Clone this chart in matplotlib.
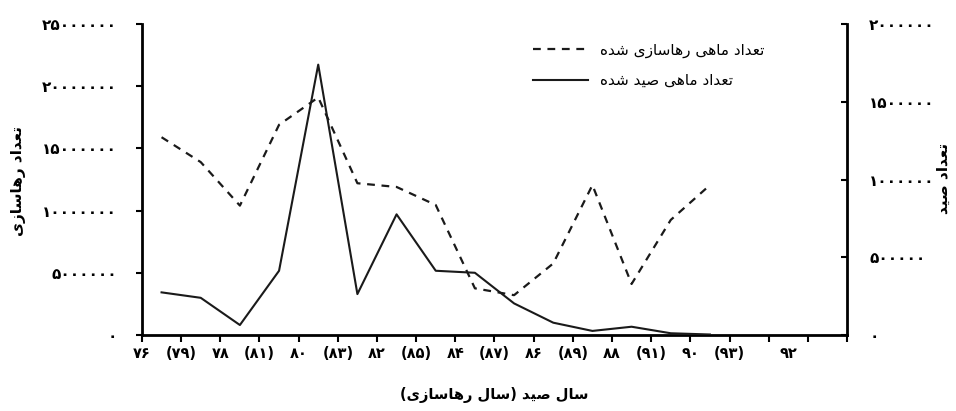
import matplotlib.pyplot as plt
import numpy as np
from matplotlib.ticker import FuncFormatter
from matplotlib.lines import Line2D

plt.rcParams['font.family'] = ['DejaVu Sans']

# data
released = [15.9e6, 13.9e6, 10.4e6, 16.9e6, 19.1e6, 12.2e6, 11.9e6, 10.45e6,
            3.75e6, 3.2e6, 5.75e6, 12.05e6, 4.1e6, 9.25e6, 12.05e6]
caught = [274e3, 239e3, 64e3, 413e3, 1739e3, 263e3, 776e3, 413e3,
          400e3, 203e3, 79e3, 26e3, 53e3, 11e3, 3e3]
x_labels = ['۷۶', '(۷۹)', '۷۸', '(۸۱)', '۸۰', '(۸۳)', '۸۲', '(۸۵)', '۸۴',
            '(۸۷)', '۸۶', '(۸۹)', '۸۸', '(۹۱)', '۹۰', '(۹۳)', '۹۲']
label_pos = list(range(16)) + [16.5]
n_slots = 18

label_released = 'تعداد ماهی رهاسازی شده'
label_caught = 'تعداد ماهی صید شده'
ylabel_left = 'تعداد رهاسازی'
ylabel_right = 'تعداد صید'
xlabel = 'سال صید (سال رهاسازی)'

# simple Persian shaping (matplotlib has no RTL / joining support)
FORMS = {
    'ا': (0xFE8D, 0xFE8E), 'د': (0xFEA9, 0xFEAA), 'ر': (0xFEAD, 0xFEAE),
    'ز': (0xFEAF, 0xFEB0),
    'ت': (0xFE95, 0xFE96, 0xFE97, 0xFE98), 'ع': (0xFEC9, 0xFECA, 0xFECB, 0xFECC),
    'ه': (0xFEE9, 0xFEEA, 0xFEEB, 0xFEEC), 'س': (0xFEB1, 0xFEB2, 0xFEB3, 0xFEB4),
    'م': (0xFEE1, 0xFEE2, 0xFEE3, 0xFEE4), 'ص': (0xFEB9, 0xFEBA, 0xFEBB, 0xFEBC),
    'ش': (0xFEB5, 0xFEB6, 0xFEB7, 0xFEB8), 'ن': (0xFEE5, 0xFEE6, 0xFEE7, 0xFEE8),
    'ل': (0xFEDD, 0xFEDE, 0xFEDF, 0xFEE0), 'ی': (0xFEEF, 0xFEF0, 0xFEF3, 0xFEF4),
}


def shape(s):
    out = []
    for i, c in enumerate(s):
        if c not in FORMS:
            out.append(c)
            continue
        f = FORMS[c]
        prev = s[i - 1] if i > 0 else ''
        nxt = s[i + 1] if i < len(s) - 1 else ''
        join_prev = prev in FORMS and len(FORMS[prev]) == 4
        join_next = len(f) == 4 and nxt in FORMS
        if join_prev and join_next:
            out.append(chr(f[3]))
        elif join_next:
            out.append(chr(f[2]))
        elif join_prev:
            out.append(chr(f[1]))
        else:
            out.append(chr(f[0]))
    swap = {'(': ')', ')': '('}
    return ''.join(swap.get(c, c) for c in reversed(out))


def to_fa(v, pos=None):
    digits = '۰۱۲۳۴۵۶۷۸۹'
    return ''.join(digits[int(d)] for d in str(int(round(v))))


fig = plt.figure(figsize=(9.56, 4.11), dpi=100)
ax = fig.add_axes([0.1485, 0.185, 0.7375, 0.7565])
ax2 = ax.twinx()

x = np.arange(len(released)) + 0.5
ax.plot(x, released, color='#1a1a1a', linewidth=1.6, linestyle=(0, (3.5, 3)))
ax2.plot(np.arange(len(caught)) + 0.5, caught, color='#1a1a1a', linewidth=1.5)

ax.set_xlim(0, n_slots)
ax.set_ylim(0, 25e6)
ax2.set_ylim(0, 2e6)

ax.xaxis.remove_overlapping_locs = False
ax.set_xticks(np.arange(n_slots + 1))
ax.set_xticklabels([])
ax.set_xticks(label_pos, minor=True)
ax.set_xticklabels(x_labels, minor=True, fontsize=10.5, fontweight='bold')
ax.tick_params(axis='x', which='major', direction='out', length=5, width=1.5)
ax.tick_params(axis='x', which='minor', length=0, pad=8)

ax.set_yticks(np.arange(0, 25e6 + 1, 5e6))
ax.yaxis.set_major_formatter(FuncFormatter(to_fa))
ax.tick_params(axis='y', direction='out', length=4, width=1.5, pad=14, labelsize=11)
for t in ax.get_yticklabels():
    t.set_fontweight('bold')

ax2.set_yticks(np.arange(0, 2e6 + 1, 5e5))
ax2.yaxis.set_major_formatter(FuncFormatter(to_fa))
ax2.tick_params(axis='y', direction='in', length=4, width=1.5, pad=16, labelsize=11)
for t in ax2.get_yticklabels():
    t.set_fontweight('bold')

for a in (ax, ax2):
    a.spines['top'].set_visible(False)
    for s in a.spines.values():
        s.set_linewidth(2)
ax.spines['right'].set_visible(False)
ax2.spines['left'].set_visible(False)
ax2.spines['bottom'].set_visible(False)

fig.text(0.019, 0.56, shape(ylabel_left), rotation=90, ha='center', va='center',
         fontsize=11, fontweight='bold')
fig.text(0.987, 0.565, shape(ylabel_right), rotation=90, ha='center', va='center',
         fontsize=11, fontweight='bold')
fig.text(0.517, 0.04, shape(xlabel), ha='center', va='center', fontsize=10.5,
         fontweight='bold')

handles = [Line2D([], [], color='#1a1a1a', linewidth=1.6, linestyle=(0, (3.5, 3))),
           Line2D([], [], color='#1a1a1a', linewidth=1.5)]
ax.legend(handles, [shape(label_released), shape(label_caught)],
          loc='upper left', bbox_to_anchor=(0.535, 0.985), frameon=False,
          fontsize=11, handlelength=3.6, labelspacing=1.0)

fig.savefig('out.png', dpi=100)
